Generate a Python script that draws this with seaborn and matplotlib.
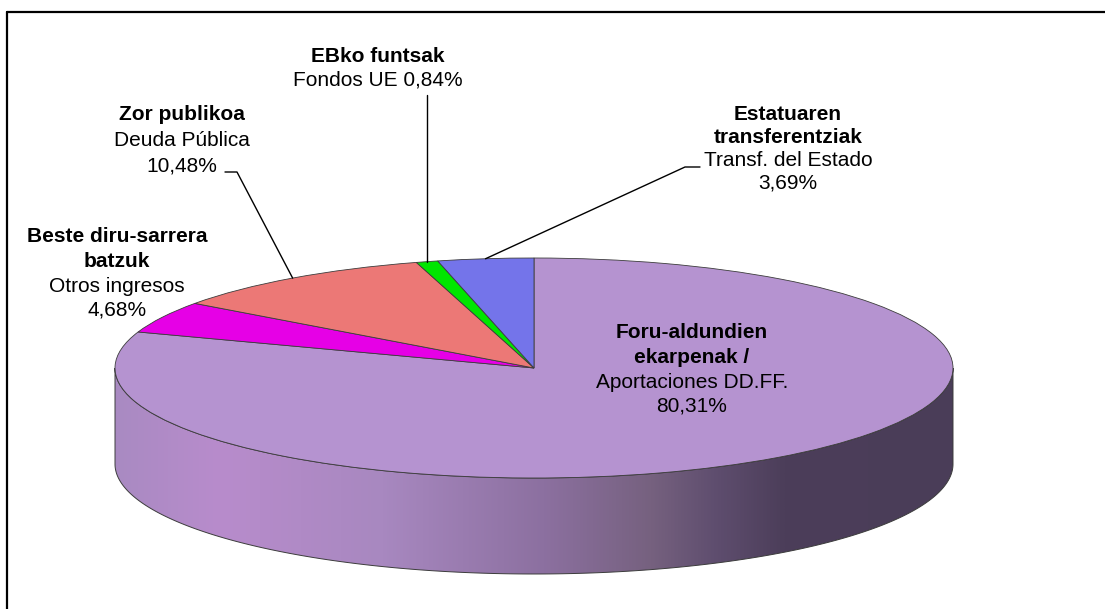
import numpy as np
import matplotlib
matplotlib.use('Agg')
import matplotlib.pyplot as plt
import seaborn as sns
from matplotlib.patches import Polygon
from matplotlib.colors import LinearSegmentedColormap
from matplotlib.lines import Line2D

# slices, clockwise from 12 o'clock
shares = [80.31, 4.68, 10.48, 0.84, 3.69]
colors = ['#b593d0', '#e600e6', '#ec7876', '#00e600', '#7474ea']
names_eu = [['Foru-aldundien', 'ekarpenak /'], ['Beste diru-sarrera', 'batzuk'],
            ['Zor publikoa'], ['EBko funtsak'], ['Estatuaren', 'transferentziak']]
names_es = ['Aportaciones DD.FF.', 'Otros ingresos', 'Deuda Pública',
            'Fondos UE', 'Transf. del Estado']
side_colors = ['#a98ac2', '#b88ccc', '#a888c0', '#8c70a0', '#76617f',
               '#5e4d6e', '#4c3e5a', '#4a3d58']
side_stops = [0.0, 0.123, 0.318, 0.512, 0.64, 0.72, 0.80, 1.0]

sns.set_theme(style='white')
plt.rcParams['font.family'] = ['Liberation Sans', 'DejaVu Sans']

W, H = 1105, 609
CX, CY, RX, RY = 534, 368, 419, 110
DEPTH = 96 / RY


def X(px):
    return (px - CX) / RX


def Y(py):
    return (CY - py) / RY


fig = plt.figure(figsize=(W / 100, H / 100), dpi=100)
ax = fig.add_axes([0, 0, 1, 1])

# top face
wedges, _ = ax.pie(shares, colors=colors, startangle=90, counterclock=False,
                   wedgeprops=dict(edgecolor='#3c3c3c', linewidth=0.6))
for w in wedges:
    w.set_zorder(3)
ax.set_aspect('auto')
ax.axis('off')

# side of the cylinder (front half)
t = np.linspace(np.pi, 2 * np.pi, 300)
top = np.column_stack([np.cos(t), np.sin(t)])
bot = np.column_stack([np.cos(t), np.sin(t) - DEPTH])[::-1]
side = Polygon(np.vstack([top, bot]), closed=True, facecolor='none',
               edgecolor='#3c3c3c', linewidth=0.7, zorder=2)
ax.add_patch(side)
cmap = LinearSegmentedColormap.from_list('side', list(zip(side_stops, side_colors)))
grad = np.linspace(0, 1, 512).reshape(1, -1)
im = ax.imshow(grad, cmap=cmap, extent=[-1, 1, -1 - DEPTH, 0], aspect='auto',
               zorder=1, interpolation='bilinear')
im.set_clip_path(side)
ax.set_xlim(X(0), X(W))
ax.set_ylim(Y(H), Y(0))

# rim points at the middle of each slice
bounds = 90 - np.concatenate([[0], np.cumsum(shares)]) * 3.6
mids = np.deg2rad((bounds[:-1] + bounds[1:]) / 2)
rim = [(np.cos(a), np.sin(a)) for a in mids]


def pct(v):
    return f'{v:.2f}'.replace('.', ',') + '%'


# label blocks: (center x px, first line y px, line step)
label_pos = [(692, 333, 24.5), (117, 237, 24.5), (182, 115, 25.5),
             (378, 57, 23.5), (788, 115, 22.8)]
fs = 15
for i, (cx, y0, step) in enumerate(label_pos):
    lines = [(s, 'bold') for s in names_eu[i]]
    if i == 3:
        lines.append((names_es[i] + ' ' + pct(shares[i]), 'normal'))
    else:
        lines.append((names_es[i], 'normal'))
        lines.append((pct(shares[i]), 'normal'))
    for k, (s, wgt) in enumerate(lines):
        ax.text(X(cx), Y(y0 + k * step), s, ha='center', va='center',
                fontsize=fs, fontweight=wgt, color='black', zorder=5)

# leader lines
lk = dict(color='black', linewidth=1.0, zorder=4)
ax.plot([X(225), X(237), rim[2][0]], [Y(172), Y(172), rim[2][1]], **lk)
ax.plot([rim[3][0], rim[3][0]], [Y(95), rim[3][1]], **lk)
ax.plot([X(700), X(685), rim[4][0]], [Y(167), Y(167), rim[4][1]], **lk)

# outer frame (left and top edges visible)
fig.add_artist(Line2D([7 / W, 1], [1 - 12 / H, 1 - 12 / H], color='black', linewidth=1.6))
fig.add_artist(Line2D([7 / W, 7 / W], [0, 1 - 12 / H], color='black', linewidth=1.6))

fig.savefig('out.png', dpi=100)
